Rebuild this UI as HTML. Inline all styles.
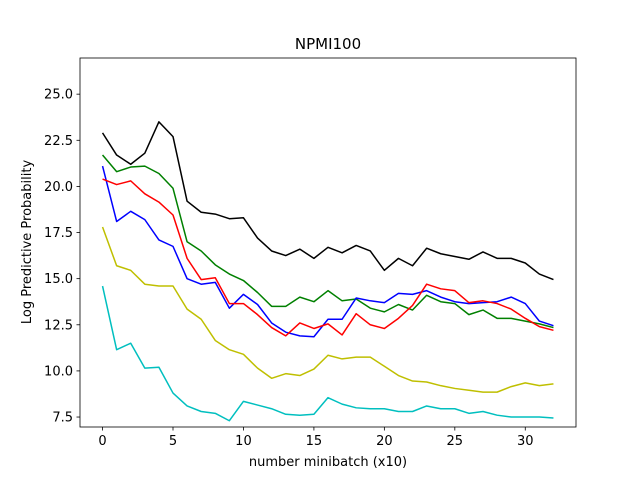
<!DOCTYPE html>
<html><head><meta charset="utf-8"><style>
body{margin:0;background:#fff;}
svg{font-family:"DejaVu Sans","Liberation Sans",sans-serif;}
</style></head><body>
<svg id="chart" width="640" height="480" xmlns="http://www.w3.org/2000/svg">
<rect width="640" height="480" fill="#fff"/>
<text x="328" y="49" text-anchor="middle" font-size="15">NPMI100</text>
<g id="plot"></g>
<rect x="80" y="58" width="496" height="369" fill="none" stroke="#000" stroke-width="0.8"/>
<text x="328" y="466" text-anchor="middle" font-size="13">number minibatch (x10)</text>
<text transform="translate(31,242) rotate(-90)" text-anchor="middle" font-size="13">Log Predictive Probability</text>
</svg>
<script>
const xTicks=[0,5,10,15,20,25,30];
const yTicks=[7.5,10.0,12.5,15.0,17.5,20.0,22.5,25.0];
const seriesColors=["black","green","blue","red","#bfbf00","#00bfbf"];
const seriesNames=["black","green","blue","red","yellow","cyan"];
const black=[22.9,21.7,21.2,21.8,23.5,22.7,19.2,18.6,18.5,18.25,18.3,17.2,16.5,16.25,16.6,16.1,16.7,16.4,16.8,16.5,15.45,16.1,15.7,16.65,16.35,16.2,16.05,16.45,16.1,16.1,15.85,15.25,14.95];
const green=[21.7,20.8,21.05,21.1,20.7,19.9,17.0,16.5,15.75,15.25,14.9,14.25,13.5,13.5,14.0,13.75,14.35,13.8,13.9,13.4,13.2,13.6,13.3,14.1,13.75,13.65,13.05,13.3,12.85,12.85,12.7,12.55,12.35];
const blue=[21.1,18.1,18.65,18.2,17.1,16.75,15.0,14.7,14.8,13.4,14.15,13.6,12.6,12.1,11.9,11.85,12.8,12.8,13.95,13.8,13.7,14.2,14.15,14.35,14.0,13.75,13.65,13.7,13.75,14.0,13.65,12.7,12.45];
const red=[20.4,20.1,20.3,19.6,19.15,18.45,16.1,14.95,15.05,13.65,13.65,13.05,12.35,11.9,12.6,12.3,12.55,11.95,13.1,12.5,12.3,12.85,13.55,14.7,14.45,14.35,13.7,13.8,13.65,13.35,12.85,12.4,12.2];
const yellow=[17.8,15.7,15.45,14.7,14.6,14.6,13.35,12.8,11.65,11.15,10.9,10.15,9.6,9.85,9.75,10.1,10.85,10.65,10.75,10.75,10.25,9.75,9.45,9.4,9.2,9.05,8.95,8.85,8.85,9.15,9.35,9.2,9.3];
const cyan=[14.6,11.15,11.5,10.15,10.2,8.8,8.1,7.8,7.7,7.3,8.35,8.15,7.95,7.65,7.6,7.65,8.55,8.2,8.0,7.95,7.95,7.8,7.8,8.1,7.95,7.95,7.7,7.8,7.6,7.5,7.5,7.5,7.45];
const allSeries=[black,green,blue,red,yellow,cyan];
const NS="http://www.w3.org/2000/svg";
const X0=80,X1=576,Y0=58,Y1=427;
const xmin=-1.6,xmax=33.6,ymin=6.96,ymax=26.96;
const sx=v=>X0+(v-xmin)/(xmax-xmin)*(X1-X0);
const sy=v=>Y1-(v-ymin)/(ymax-ymin)*(Y1-Y0);
const g=document.getElementById('plot');
function mk(t,a){const e=document.createElementNS(NS,t);for(const k in a)e.setAttribute(k,a[k]);return e;}
xTicks.forEach(t=>{
  const l=mk('line',{x1:sx(t),x2:sx(t),y1:Y1,y2:Y1+3.5,stroke:'#000','stroke-width':0.8});
  
  
  g.appendChild(l);
  const tx=mk('text',{x:sx(t),y:Y1+18,'text-anchor':'middle','font-size':13});
  
  
  tx.textContent=t;g.appendChild(tx);
});
yTicks.forEach(t=>{
  const l=mk('line',{x1:X0-3.5,x2:X0,y1:sy(t),y2:sy(t),stroke:'#000','stroke-width':0.8});
  
  
  g.appendChild(l);
  const tx=mk('text',{x:X0-7,y:sy(t)+4.5,'text-anchor':'end','font-size':13});
  
  
  tx.textContent=t.toFixed(1);g.appendChild(tx);
});
allSeries.forEach((s,i)=>{
  const p=mk('polyline',{points:s.map((v,j)=>sx(j)+','+sy(v)).join(' '),fill:'none',stroke:seriesColors[i],'stroke-width':1.5,'stroke-linejoin':'round'});
  
  
  g.appendChild(p);
});
</script>
</body></html>
